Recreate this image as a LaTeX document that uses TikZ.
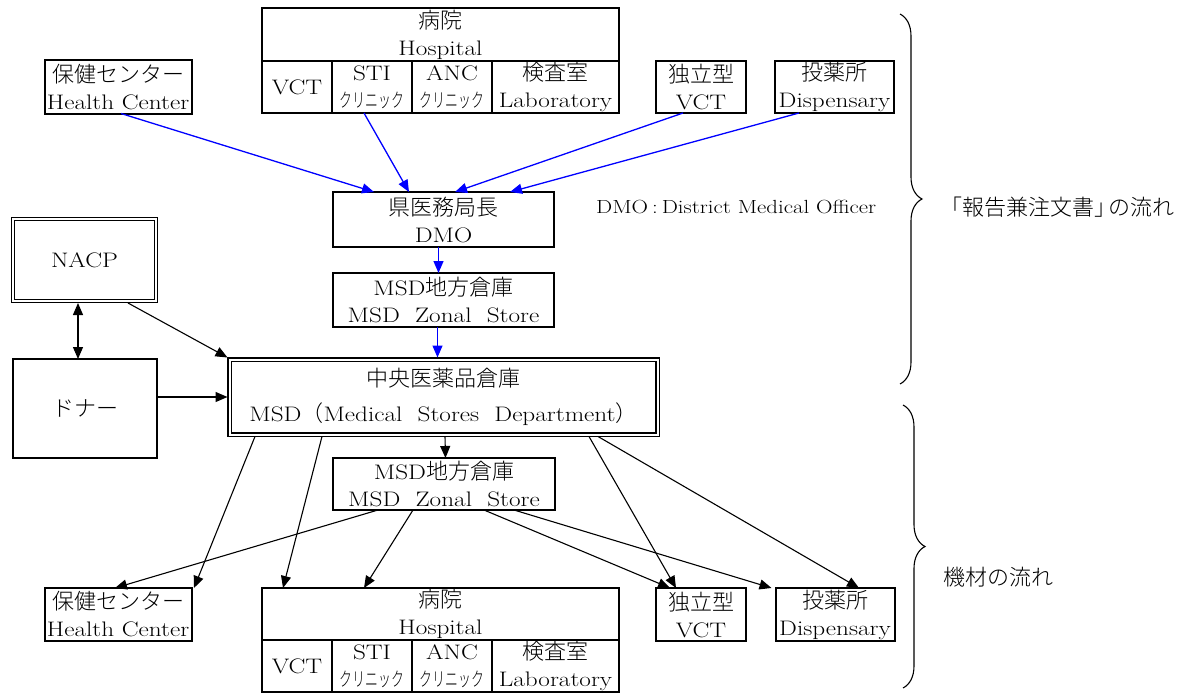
\documentclass[tikz,border=0pt]{standalone}
\usepackage{fontspec}
\setmainfont{lmroman17-regular.otf}[FakeStretch=1.2]
\newfontfamily\jpfont{Noto Sans CJK JP}[UprightFont=* Light]
\newfontfamily\jpnarrow{Noto Sans CJK JP}[UprightFont=* Light, FakeStretch=0.66]
\usetikzlibrary{arrows.meta,positioning,calc,decorations.pathreplacing}

\newcommand\latsize{\fontsize{21}{27}\selectfont}
\newcommand\jtxt[1]{{\jpfont\fontsize{22}{27}\selectfont #1}}
\newcommand\jnar[1]{{\jpnarrow\fontsize{19.5}{27}\selectfont #1}}

\begin{document}
\begin{tikzpicture}[
  x=1pt, y=-1pt, >={Triangle[length=12pt,width=10pt]},
  box/.style={draw, line width=2pt, inner sep=0pt, outer sep=0pt,
              align=center, font=\latsize},
  dbox/.style={draw, double, double distance=2pt, line width=1.4pt,
               inner sep=0pt, outer sep=0pt, align=center, font=\latsize},
  flowb/.style={->, draw=blue, line width=1.3pt},
  flowk/.style={->, line width=1.1pt},
  remark/.style={font=\latsize, anchor=west, inner sep=0pt}
]
\useasboundingbox (0,0) rectangle (1189,693);

% reports / orders (top)
\node[box, minimum width=357pt, minimum height=53pt] (hospA) at (440.5,34.5) {\jtxt{病院}\\Hospital};
\node[box, minimum width=70pt, minimum height=52pt, below right=0pt and 0pt of hospA.south west] (vctA) {VCT};
\node[box, minimum width=80pt, minimum height=52pt, right=0pt of vctA] (stiA) {STI\\\jnar{クリニック}};
\node[box, minimum width=80pt, minimum height=52pt, right=0pt of stiA] (ancA) {ANC\\\jnar{クリニック}};
\node[box, minimum width=127pt, minimum height=52pt, right=0pt of ancA] (labA) {\jtxt{検査室}\\Laboratory};
\node[box, minimum width=147pt, minimum height=53pt] (hcA) at (118,87) {\jtxt{保健センター}\\Health Center};
\node[box, minimum width=90pt, minimum height=52pt] (ivctA) at (701,87) {\jtxt{独立型}\\VCT};
\node[box, minimum width=119pt, minimum height=52pt] (dispA) at (834.5,87) {\jtxt{投薬所}\\Dispensary};

\node[box, minimum width=221pt, minimum height=55pt] (dmo) at (443.5,219.5) {\jtxt{県医務局長}\\DMO};
\node[box, minimum width=221pt, minimum height=54pt, below=26pt of dmo] (zonA) {MSD\jtxt{地方倉庫}\\MSD~~Zonal~~Store};
\node[remark, font=\fontsize{19}{22}\selectfont] (dmonote) at (596,207) {DMO\hspace{4pt}:\hspace{4pt}District Medical Officer};

% central store and suppliers
\node[dbox, minimum width=143pt, minimum height=82pt] (nacp) at (84.5,260) {NACP};
\node[box, minimum width=144pt, minimum height=99pt] (donor) at (85,408.5) {\jtxt{ドナー}};
\node[dbox, minimum width=428pt, minimum height=75pt] (msd) at (443.5,397) {\jtxt{中央医薬品倉庫}\\[8pt]MSD\jtxt{（}Medical~~Stores~~Department\jtxt{）}};
\node[box, minimum width=222pt, minimum height=52pt] (zonB) at (444,484) {MSD\jtxt{地方倉庫}\\MSD~~Zonal~~Store};

% equipment (bottom)
\node[box, minimum width=357pt, minimum height=52pt] (hospB) at (440.5,614) {\jtxt{病院}\\Hospital};
\node[box, minimum width=70pt, minimum height=52pt, below right=0pt and 0pt of hospB.south west] (vctB) {VCT};
\node[box, minimum width=80pt, minimum height=52pt, right=0pt of vctB] (stiB) {STI\\\jnar{クリニック}};
\node[box, minimum width=80pt, minimum height=52pt, right=0pt of stiB] (ancB) {ANC\\\jnar{クリニック}};
\node[box, minimum width=127pt, minimum height=52pt, right=0pt of ancB] (labB) {\jtxt{検査室}\\Laboratory};
\node[box, minimum width=147pt, minimum height=53pt] (hcB) at (118,614.5) {\jtxt{保健センター}\\Health Center};
\node[box, minimum width=90pt, minimum height=53pt] (ivctB) at (701,614.5) {\jtxt{独立型}\\VCT};
\node[box, minimum width=119pt, minimum height=53pt] (dispB) at (835,614.5) {\jtxt{投薬所}\\Dispensary};

% braces
\draw[line width=1.1pt, decorate, decoration={brace, amplitude=22pt}] (900,14) -- (900,384);
\draw[line width=1.1pt, decorate, decoration={brace, amplitude=22pt}] (903,405) -- (903,688);
\node[remark] (flowA) at (940,207) {\jtxt{「報告兼注文書」\hspace{-8pt}の流れ}};
\node[remark] (flowB) at (943,577) {\jtxt{機材の流れ}};

% blue: reports and orders
\draw[flowb] ($(hcA.south)+(3,0)$) -- ($(dmo.north)+(-69.5,0)$);
\draw[flowb] ($(stiA.south)+(-8,0)$) -- ($(dmo.north)+(-34.5,0)$);
\draw[flowb] ($(ivctA.south)+(-18,0)$) -- ($(dmo.north)+(11.5,0)$);
\draw[flowb] ($(dispA.south)+(-35.5,0)$) -- ($(dmo.north)+(66.5,0)$);
\draw[flowb] ($(dmo.south)+(-5,0)$) -- ($(zonA.north)+(-5,0)$);
\draw[flowb] ($(zonA.south)+(-6,0)$) -- ($(msd.north)+(-6,-2)$);

% black: equipment
\draw[flowk, <->] ($(nacp.south)+(-6.5,2)$) -- ($(donor.north)+(-7,0)$);
\draw[flowk] ($(nacp.south)+(43.5,2)$) -- ($(msd.north west)+(-2,-2)$);
\draw[flowk] (donor.east |- msd.west) -- ($(msd.west)+(-2,0)$);
\draw[flowk] ($(msd.south)+(1.5,2)$) -- ($(zonB.north)+(1.5,0)$);
\draw[flowk] ($(msd.south)+(-188.5,2)$) -- ($(hcB.north)+(76,0)$);
\draw[flowk] ($(msd.south)+(-121.5,2)$) -- ($(hospB.north)+(-157.5,0)$);
\draw[flowk] ($(zonB.south)+(-66,0)$) -- ($(hcB.north)+(-3,0)$);
\draw[flowk] ($(zonB.south)+(-31,0)$) -- ($(hospB.north)+(-76.5,0)$);
\draw[flowk] ($(zonB.south)+(40,0)$) -- ($(ivctB.north)+(-31,0)$);
\draw[flowk] ($(zonB.south)+(70,0)$) -- ($(dispB.north west)+(-4,0)$);
\draw[flowk] ($(msd.south)+(145.5,2)$) -- ($(ivctB.north)+(-25,0)$);
\draw[flowk] ($(msd.south)+(154.5,2)$) -- ($(dispB.north)+(24,0)$);
\end{tikzpicture}
\end{document}
